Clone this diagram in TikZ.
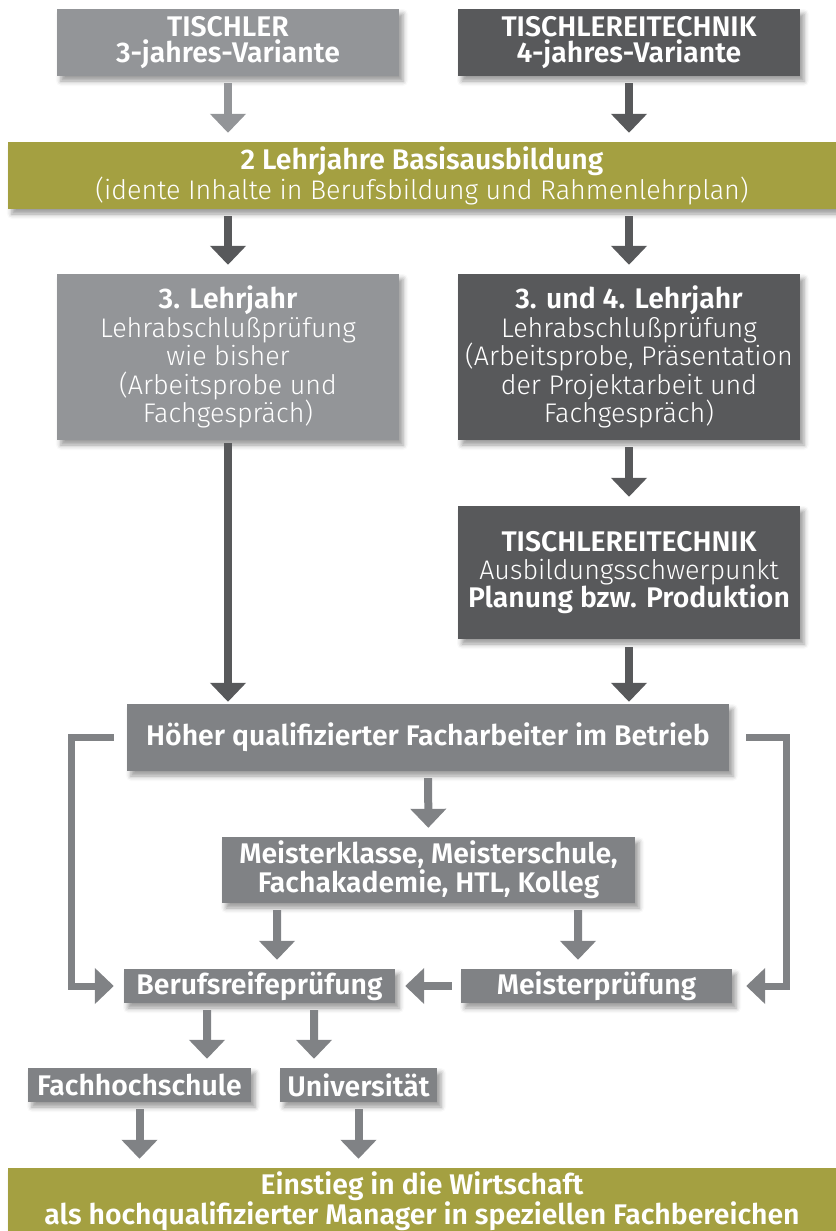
\documentclass[tikz,border=0pt]{standalone}
\usepackage{fontspec}
\setmainfont{Fira Sans}[UprightFont={* Light},BoldFont={* SemiBold}]
\usetikzlibrary{arrows.meta,shadows.blur}
\definecolor{lgray}{HTML}{939598}
\definecolor{dgray}{HTML}{58595B}
\definecolor{mgray}{HTML}{808285}
\definecolor{olive}{HTML}{A4A041}
\newcommand{\Bd}[1]{{\fontsize{28.5}{26}\selectfont\bfseries #1}}
\newcommand{\Lt}[1]{{\fontsize{27}{26}\selectfont #1}}
\begin{document}
\begin{tikzpicture}[x=1bp,y=-1bp,
  box/.style={inner sep=0pt, align=center, text=white,
    blur shadow={shadow xshift=4bp,shadow yshift=-5bp,shadow blur radius=5bp,shadow opacity=40},
    font=\fontsize{27}{26}\selectfont},
  bigbox/.style={box, font=\fontsize{27}{28.5}\selectfont},
  arr/.style={line width=8bp, -{Triangle[width=35bp,length=19bp]}, shorten <=7bp, shorten >=9bp},
  side/.style={line width=7bp, draw=mgray, -{Triangle[width=35bp,length=19bp]}}
]
\useasboundingbox (0,0) rectangle (836,1231);
\node[box, fill=lgray, minimum width=342bp, minimum height=67bp] (t3) at (228,42.5) {\Bd{TISCHLER}\\\Bd{3-jahres-Variante}};
\node[box, fill=dgray, minimum width=342bp, minimum height=67bp] (t4) at (629,42.5) {\Bd{TISCHLEREITECHNIK}\\\Bd{4-jahres-Variante}};
\node[box, fill=olive, minimum width=828bp, minimum height=67bp] (basis) at (422,175.5) {\Bd{2 Lehrjahre Basisausbildung}\\\Lt{(idente Inhalte in Berufsbildung und Rahmenlehrplan)}};
\node[bigbox, fill=lgray, minimum width=342bp, minimum height=166bp] (l3) at (228,357) {\Bd{3. Lehrjahr}\\Lehrabschlußprüfung\\wie bisher\\(Arbeitsprobe und\\Fachgespräch)};
\node[bigbox, fill=dgray, minimum width=342bp, minimum height=166bp] (l34) at (629,357) {\Bd{3. und 4. Lehrjahr}\\Lehrabschlußprüfung\\(Arbeitsprobe, Präsentation\\der Projektarbeit und\\Fachgespräch)};
\node[bigbox, fill=dgray, minimum width=342bp, minimum height=133bp] (tt) at (629,572.5) {\Bd{TISCHLEREITECHNIK}\\Ausbildungsschwerpunkt\\\Bd{Planung bzw. Produktion}};
\node[box, fill=mgray, minimum width=602bp, minimum height=67bp] (hoeher) at (428,737.5) {\Bd{Höher qualifizierter Facharbeiter im Betrieb}};
\node[box, fill=mgray, minimum width=413bp, minimum height=66bp] (meister) at (428.5,870) {\Bd{Meisterklasse, Meisterschule,}\\\Bd{Fachakademie, HTL, Kolleg}};
\node[box, fill=mgray, minimum width=271bp, minimum height=34bp] (brp) at (259.5,986) {\Bd{Berufsreifeprüfung}};
\node[box, fill=mgray, minimum width=271bp, minimum height=34bp] (mp) at (596.5,986) {\Bd{Meisterprüfung}};
\node[box, fill=mgray, minimum width=223bp, minimum height=34bp] (fh) at (139.5,1085) {\Bd{Fachhochschule}};
\node[box, fill=mgray, minimum width=157bp, minimum height=34bp] (uni) at (358.5,1085) {\Bd{Universität}};
\node[box, fill=olive, minimum width=828bp, minimum height=67bp] (wirt) at (422,1201.5) {\Bd{Einstieg in die Wirtschaft}\\\Bd{als hochqualifizierter Manager in speziellen Fachbereichen}};
% arrows
\draw[arr, draw=lgray] (t3) -- (t3 |- basis.north);
\draw[arr, draw=dgray] (t4) -- (t4 |- basis.north);
\draw[arr, draw=dgray] (basis.south -| t3) -- (l3);
\draw[arr, draw=dgray] (basis.south -| t4) -- (l34);
\draw[arr, draw=dgray, shorten >=2bp, shorten <=3bp] (l3) -- (l3 |- hoeher.north);
\draw[arr, draw=dgray] (l34) -- (tt);
\draw[arr, draw=dgray, shorten >=2bp, shorten <=8bp] (tt) -- (tt |- hoeher.north);
\draw[arr, draw=mgray] (hoeher) -- (meister);
\draw[arr, draw=mgray] ([xshift=-151.5bp]meister.south) -- ([xshift=17.5bp]brp.north);
\draw[arr, draw=mgray] ([xshift=149.5bp]meister.south) -- ([xshift=-18.5bp]mp.north);
\draw[arr, draw=mgray] ([xshift=-52.5bp]brp.south) -- ([xshift=67.5bp]fh.north);
\draw[arr, draw=mgray] ([xshift=54.5bp]brp.south) -- ([xshift=-44.5bp]uni.north);
\draw[arr, draw=mgray] (fh) -- (fh |- wirt.north);
\draw[arr, draw=mgray] (uni) -- (uni |- wirt.north);
\draw[arr, draw=mgray, shorten <=9bp, shorten >=10bp] (mp) -- (brp);
\draw[side] ([xshift=-13bp]hoeher.west) -- ++(-42,0) |- ([xshift=-10bp]brp.west);
\draw[side] ([xshift=17bp]hoeher.east) -- ++(40,0) |- ([xshift=14bp]mp.east);
\end{tikzpicture}
\end{document}
